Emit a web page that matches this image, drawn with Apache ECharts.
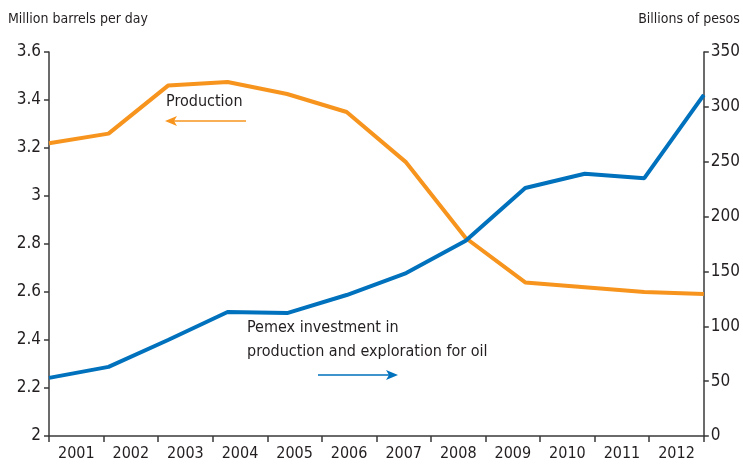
<!DOCTYPE html>
<html>
<head>
<meta charset="utf-8">
<script src="https://cdn.jsdelivr.net/npm/echarts@6/dist/echarts.min.js"></script>
<style>
html,body{margin:0;padding:0;background:#fff;}
#c{width:743px;height:465px;}
</style>
</head>
<body>
<div id="c"></div>
<script>
var years = ['2001','2002','2003','2004','2005','2006','2007','2008','2009','2010','2011','2012'];
var production = [3.22, 3.26, 3.46, 3.475, 3.425, 3.35, 3.14, 2.825, 2.64, 2.62, 2.60, 2.592];
var investment = [53, 63, 87.5, 113, 112, 128.5, 148.5, 178, 226, 239, 235, 311];
var leftTicks = [2, 2.2, 2.4, 2.6, 2.8, 3, 3.2, 3.4, 3.6];
var rightTicks = [0, 50, 100, 150, 200, 250, 300, 350];

var FONT = '"Liberation Sans Narrow", "DejaVu Sans Condensed", "Roboto Condensed", sans-serif';
var TXT = '#231f20';
var AX = '#3a3a3a';
var ORANGE = '#f7941d';
var BLUE = '#0071bc';

var chart = echarts.init(document.getElementById('c'));
chart.setOption({
  animation: false,
  backgroundColor: '#fff',
  grid: {left: 49, right: 37, top: 52, bottom: 29, containLabel: false},
  xAxis: [
    {
      type: 'category', data: years, boundaryGap: true, position: 'bottom',
      axisLine: {show: true, lineStyle: {color: AX, width: 1.5}},
      axisTick: {show: true, interval: 0, length: 6, lineStyle: {color: AX, width: 1.5}},
      axisLabel: {interval: 0, color: TXT, fontFamily: FONT, fontSize: 16, margin: 10},
      splitLine: {show: false}
    },
    {
      type: 'category', data: years, boundaryGap: false, show: false
    }
  ],
  yAxis: [
    {
      type: 'value', min: 2, max: 3.6, interval: 0.2, position: 'left',
      name: 'Million barrels per day', nameLocation: 'end', nameGap: 26,
      nameTextStyle: {color: TXT, fontFamily: FONT, fontSize: 14, align: 'left', padding: [0, 0, 0, -41]},
      axisLine: {show: true, lineStyle: {color: AX, width: 1.5}},
      axisTick: {show: true, length: 5, lineStyle: {color: AX, width: 1.5}},
      axisLabel: {color: TXT, fontFamily: FONT, fontSize: 17, margin: 8,
        formatter: function (v) { return leftTicks.indexOf(+v.toFixed(1)) >= 0 ? String(+v.toFixed(1)) : ''; }},
      splitLine: {show: false}
    },
    {
      type: 'value', min: 0, max: 350, interval: 50, position: 'right',
      name: 'Billions of pesos', nameLocation: 'end', nameGap: 26,
      nameTextStyle: {color: TXT, fontFamily: FONT, fontSize: 14, align: 'right', padding: [0, -36, 0, 0]},
      axisLine: {show: true, lineStyle: {color: AX, width: 1.5}},
      axisTick: {show: true, length: 5, lineStyle: {color: AX, width: 1.5}},
      axisLabel: {color: TXT, fontFamily: FONT, fontSize: 17, margin: 7,
        formatter: function (v) { return rightTicks.indexOf(v) >= 0 ? String(v) : ''; }},
      splitLine: {show: false}
    }
  ],
  series: [
    {
      name: 'Production', type: 'line', xAxisIndex: 1, yAxisIndex: 0,
      data: production, symbol: 'none', lineStyle: {color: ORANGE, width: 4}, z: 3
    },
    {
      name: 'Pemex investment', type: 'line', xAxisIndex: 1, yAxisIndex: 1,
      data: investment, symbol: 'none', lineStyle: {color: BLUE, width: 4}, z: 4
    }
  ],
  graphic: [
    {type: 'text', left: 166, top: 94, style: {text: 'Production', fill: TXT, font: '16px ' + FONT}},
    {type: 'line', shape: {x1: 246, y1: 121, x2: 172, y2: 121}, style: {stroke: ORANGE, lineWidth: 1.3}},
    {type: 'polygon', shape: {points: [[165, 121], [177, 116], [174, 121], [177, 126]]}, style: {fill: ORANGE}},
    {type: 'text', left: 247, top: 316, style: {text: 'Pemex investment in\nproduction and exploration for oil', fill: TXT, font: '16px ' + FONT, lineHeight: 24}},
    {type: 'line', shape: {x1: 318, y1: 375, x2: 390, y2: 375}, style: {stroke: BLUE, lineWidth: 1.3}},
    {type: 'polygon', shape: {points: [[398, 375], [386, 370], [389, 375], [386, 380]]}, style: {fill: BLUE}}
  ]
});
</script>
</body>
</html>
